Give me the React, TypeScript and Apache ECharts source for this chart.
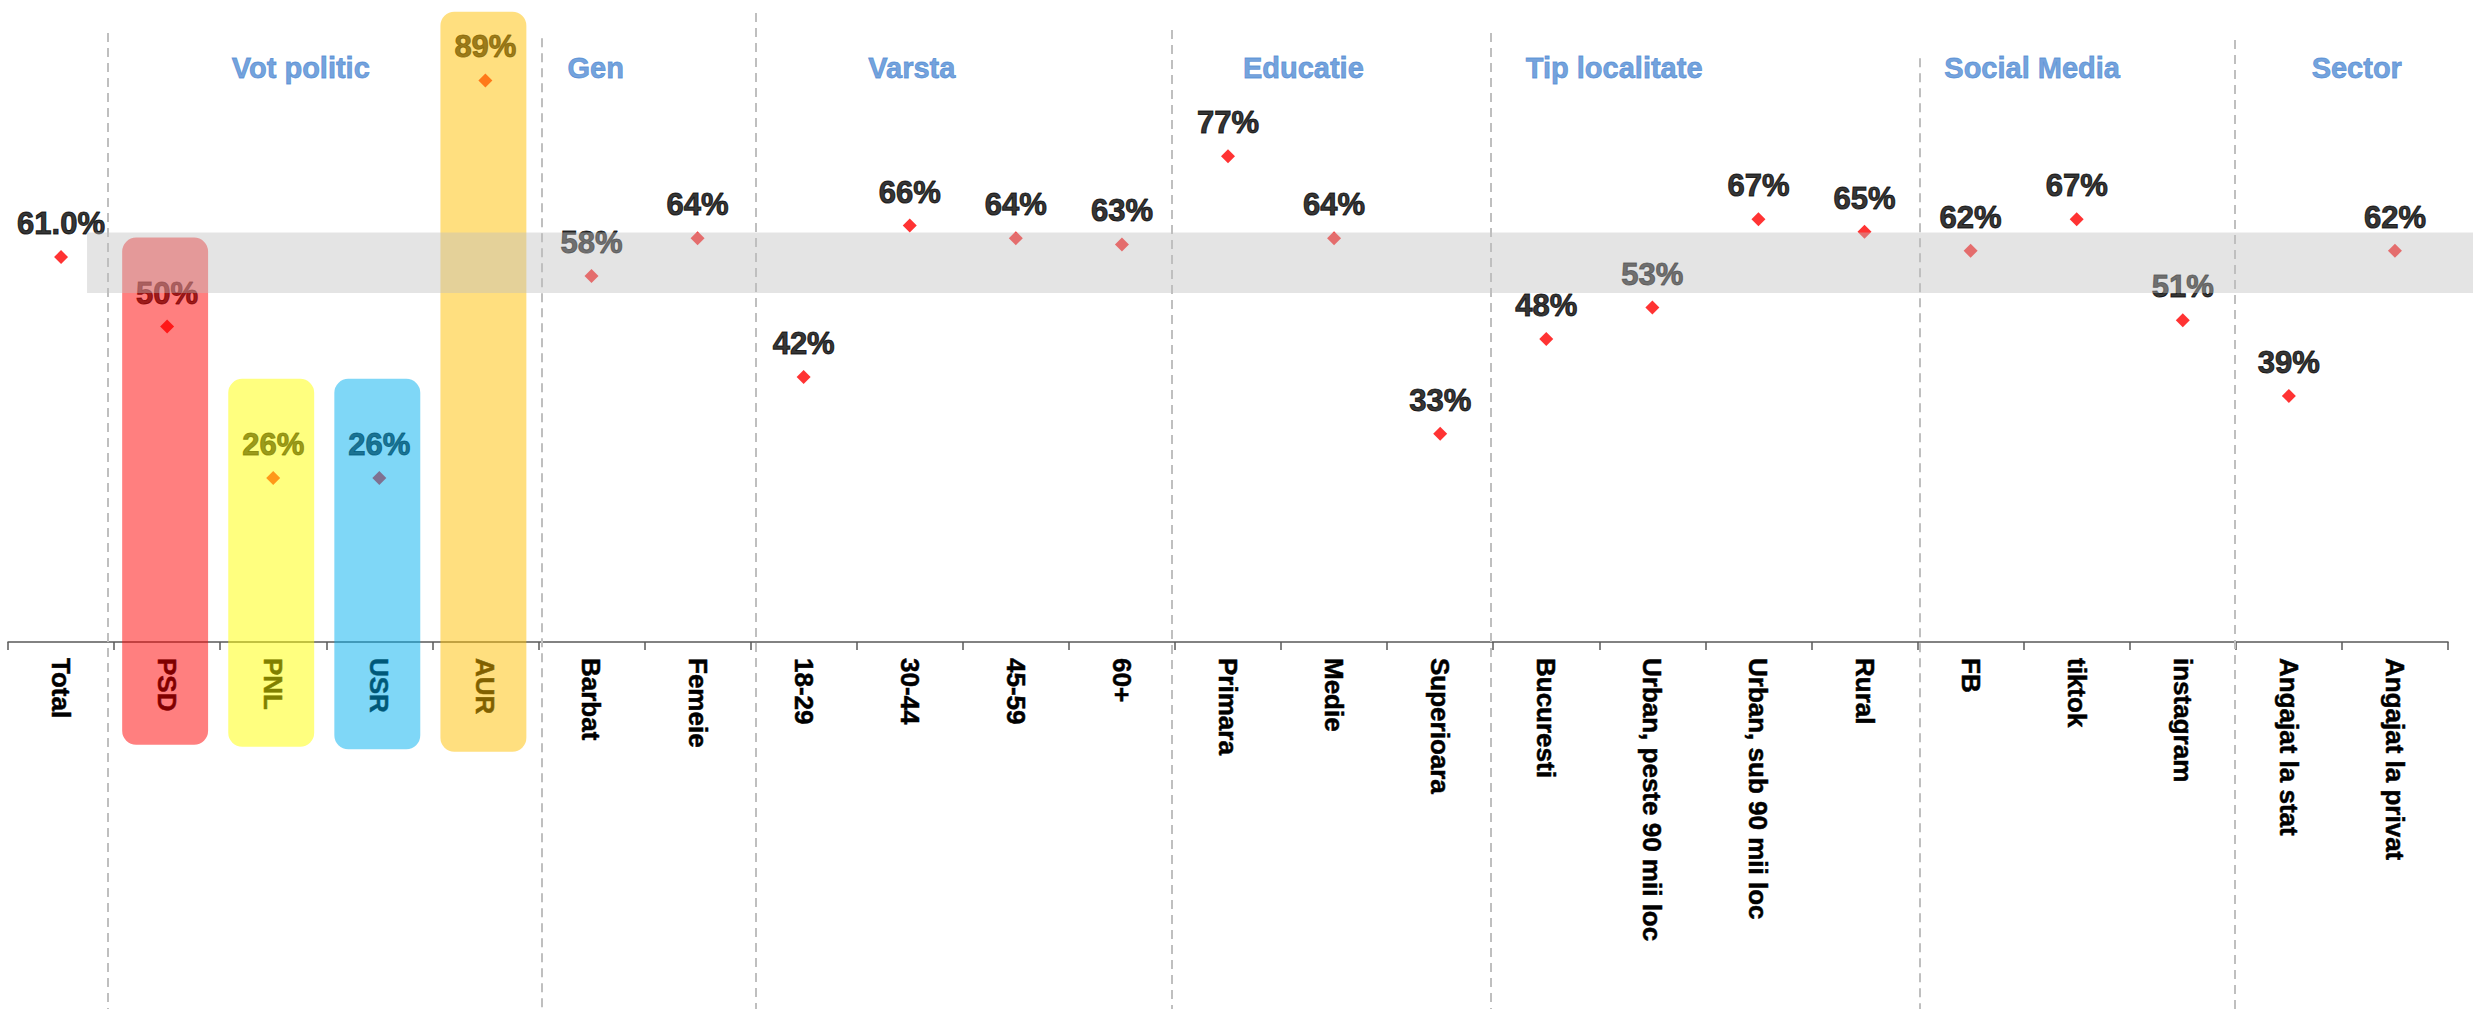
import React, { useEffect, useRef } from "react";
import * as echarts from "echarts";

// ---------- data ----------
const categories = [
  "Total", "PSD", "PNL", "USR", "AUR", "Barbat", "Femeie",
  "18-29", "30-44", "45-59", "60+", "Primara", "Medie", "Superioara",
  "Bucuresti", "Urban, peste 90 mii loc", "Urban, sub 90 mii loc", "Rural",
  "FB", "tiktok", "instagram", "Angajat la stat", "Angajat la privat",
];
const values = [
  61.0, 50, 26, 26, 89, 58, 64,
  42, 66, 64, 63, 77, 64, 33,
  48, 53, 67, 65,
  62, 67, 51, 39, 62,
];

// party highlight boxes (category index, top value, bottom value)
const partyIndex = [1, 2, 3, 4];
const partyBoxTop = [64.1, 41.7, 41.7, 99.9];
const partyBoxBottom = [-16.3, -16.6, -17.0, -17.4];
const partyFill = [
  "rgba(255,0,0,0.5)",
  "rgba(255,255,0,0.5)",
  "rgba(0,176,240,0.5)",
  "rgba(255,192,0,0.5)",
];

// group titles (centre in category units)
const groupTitles = ["Vot politic", "Gen", "Varsta", "Educatie", "Tip localitate", "Social Media", "Sector"];
const groupTitleX = [2.76, 5.54, 8.52, 12.21, 15.14, 19.08, 22.14];
const groupTitleY = 91;

// separators (position in category units, top value)
const separatorX = [0.94, 5.035, 7.05, 10.97, 13.98, 18.02, 20.99];
const separatorTop = [96.5, 95.7, 99.7, 97.0, 96.5, 92.5, 95.4];

// reference band
const bandStart = 0.745;
const bandLow = 55.3;
const bandHigh = 64.9;

// ---------- layout ----------
const W = 2473;
const H = 1009;
const GL = 8;
const GR = 25;
const GT = 11;
const GB = 367;
const catW = (W - GL - GR) / categories.length;
const pxPerUnit = (H - GT - GB) / 100;
const FONT = "'Liberation Sans', Arial, Helvetica, sans-serif";

export default function App() {
  const ref = useRef<HTMLDivElement>(null);

  useEffect(() => {
    if (!ref.current) return;
    const chart = echarts.init(ref.current, undefined, { renderer: "svg" });

    const x2min = -GL / catW;
    const x2max = categories.length + GR / catW;
    const y2min = -GB / pxPerUnit;
    const y2max = 100 + GT / pxPerUnit;

    const option: any = {
      animation: false,
      backgroundColor: "#ffffff",
      grid: [
        { left: GL, right: GR, top: GT, bottom: GB, containLabel: false },
        { left: 0, right: 0, top: 0, bottom: 0, containLabel: false },
      ],
      xAxis: [
        {
          type: "category",
          gridIndex: 0,
          data: categories,
          boundaryGap: true,
          axisLine: { show: true, lineStyle: { color: "#595959", width: 1.5 } },
          axisTick: { show: true, length: 8, alignWithLabel: false, lineStyle: { color: "#595959", width: 1.5 } },
          axisLabel: {
            interval: 0,
            rotate: -90,
            margin: 16,
            fontSize: 26,
            fontWeight: "bold",
            color: "#000000",
            fontFamily: FONT,
            textBorderColor: "#000000",
            textBorderWidth: 0.5,
          },
          splitLine: { show: false },
        },
        {
          type: "value",
          gridIndex: 1,
          min: x2min,
          max: x2max,
          show: false,
        },
      ],
      yAxis: [
        { type: "value", gridIndex: 0, min: 0, max: 100, show: false },
        { type: "value", gridIndex: 1, min: y2min, max: y2max, show: false },
      ],
      series: [
        // separators
        {
          type: "scatter",
          xAxisIndex: 1,
          yAxisIndex: 1,
          data: [],
          z: 1,
          silent: true,
          markLine: {
            z: 1,
            silent: true,
            symbol: ["none", "none"],
            label: { show: false },
            lineStyle: { color: "#BFBFBF", width: 2, type: [9, 6] },
            data: separatorX.map((x, i) => [
              { coord: [x, separatorTop[i]] },
              { coord: [x, y2min] },
            ]),
          },
        },
        // group titles
        {
          type: "scatter",
          xAxisIndex: 1,
          yAxisIndex: 1,
          symbolSize: 0,
          z: 3,
          silent: true,
          data: groupTitles.map((t, i) => ({ value: [groupTitleX[i], groupTitleY], name: t })),
          label: {
            show: true,
            position: "inside",
            formatter: (p: any) => p.name,
            fontSize: 29,
            fontWeight: "bold",
            color: "#4F8AD3",
            fontFamily: FONT,
            textBorderColor: "#4F8AD3",
            textBorderWidth: 0.8,
          },
        },
        // values
        {
          type: "scatter",
          xAxisIndex: 0,
          yAxisIndex: 0,
          data: values,
          symbol: "diamond",
          symbolSize: 14,
          z: 2,
          itemStyle: { color: "#FF0000" },
          label: {
            show: true,
            position: "top",
            distance: 11,
            fontSize: 31,
            fontWeight: "bold",
            color: "#000000",
            fontFamily: FONT,
            textBorderColor: "#000000",
            textBorderWidth: 1,
            formatter: (p: any) =>
              p.dataIndex === 0 ? p.value.toFixed(1) + "%" : Math.round(p.value) + "%",
          },
        },
        // party boxes (translucent overlays)
        {
          type: "custom",
          xAxisIndex: 0,
          yAxisIndex: 0,
          z: 8,
          silent: true,
          data: partyIndex.map((c, i) => [c, partyBoxTop[i], partyBoxBottom[i]]),
          encode: { x: 0, y: [1, 2] },
          renderItem: (params: any, api: any) => {
            const c = api.value(0);
            const top = api.coord([c, api.value(1)]);
            const bot = api.coord([c, api.value(2)]);
            const w = api.size([1, 0])[0] * 0.81;
            return {
              type: "rect",
              z2: 100,
              shape: { x: top[0] - w / 2 - 2, y: top[1], width: w, height: bot[1] - top[1], r: 14 },
              style: { fill: partyFill[params.dataIndex] },
            };
          },
        },
        // gray band overlay
        {
          type: "scatter",
          xAxisIndex: 1,
          yAxisIndex: 1,
          data: [],
          z: 10,
          silent: true,
          markArea: {
            z: 10,
            silent: true,
            itemStyle: { color: "rgba(190,190,190,0.42)" },
            label: { show: false },
            data: [[{ coord: [bandStart, bandLow] }, { coord: [x2max, bandHigh] }]],
          },
        },
      ],
    };

    chart.setOption(option);
    return () => chart.dispose();
  }, []);

  return (
    <div
      ref={ref}
      style={{ position: "absolute", left: 0, top: 0, width: W, height: H, background: "#fff" }}
    />
  );
}
